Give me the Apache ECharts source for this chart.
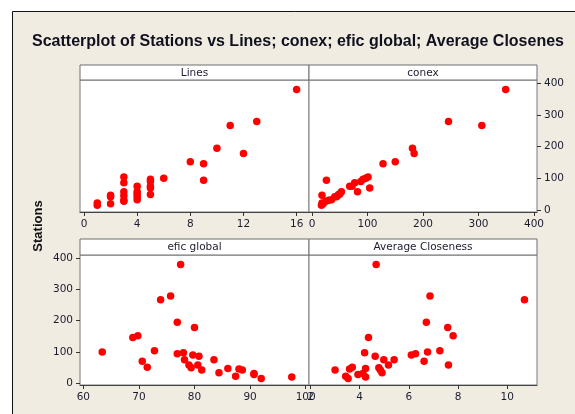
<!DOCTYPE html>
<html>
<head>
<meta charset="utf-8">
<script src="https://cdn.jsdelivr.net/npm/echarts@6/dist/echarts.min.js"></script>
<style>html,body{margin:0;padding:0;background:#fff;}#c{width:575px;height:414px;}</style>
</head>
<body>
<div id="c"></div>
<script>
const stations = [15,20,22,28,31,33,42,42,45,47,49,51,58,58,70,75,75,86,90,94,97,100,104,146,152,178,195,267,279,380];
const lines = [1,2,1,3,3,4,4,2,3,2,5,4,3,4,5,4,5,3,5,9,5,6,3,9,8,12,10,11,13,16];
const conex = [17,20,18,25,30,35,41,44,46,18,48,50,53,82,104,68,72,77,88,26,92,97,101,128,150,184,181,306,246,349];
const eficGlobal = [92.0,97.5,87.4,90.7,90.7,84.4,81.3,88.6,88.0,86.0,79.4,71.5,79.0,80.6,70.6,78.2,83.5,80.8,79.7,76.9,78.0,63.4,72.8,68.9,69.8,80.0,76.9,73.9,75.7,77.5];
const avgCloseness = [3.53,4.24,3.43,3.93,4.13,4.91,3.00,4.84,3.59,4.24,4.78,3.70,5.17,7.61,6.62,4.98,5.40,4.63,6.10,6.27,4.20,6.76,7.26,4.36,7.80,7.58,6.71,10.7,6.86,4.67];

const linesTicks = [0,4,8,12,16];
const conexTicks = [0,100,200,300,400];
const eficTicks = [60,70,80,90,100];
const avgTicks = [2,4,6,8,10];
const stationTicks = [0,100,200,300,400];
const panelTitles = ['Lines','conex','efic global','Average Closeness'];
const chartTitle = 'Scatterplot of Stations vs Lines; conex; efic global; Average Closenes';

const FONT = 'DejaVu Sans';
const TXT = '#1c1c30';
const pair = (xs) => xs.map((x, i) => [x, stations[i]]);

const grids = [
  {left: 80, top: 80, width: 229, height: 132},
  {left: 309, top: 80, width: 228, height: 132},
  {left: 80, top: 255, width: 229, height: 130},
  {left: 309, top: 255, width: 228, height: 130}
].map(g => Object.assign(g, {show: true, backgroundColor: '#fff', borderColor: '#7a7a7a', borderWidth: 1, containLabel: false}));

function xAx(i, min, max, ticks) {
  return {
    type: 'value', gridIndex: i, min: min, max: max, position: 'bottom',
    axisLine: {show: true, onZero: false, lineStyle: {color: '#444', width: 1}},
    axisTick: {show: true, length: 4, customValues: ticks, lineStyle: {color: '#333'}},
    axisLabel: {show: true, customValues: ticks, margin: 7, fontFamily: FONT, fontSize: 10.5, color: TXT},
    splitLine: {show: false}
  };
}
function yAx(i, showLab, pos) {
  return {
    type: 'value', gridIndex: i, min: -6, max: 410, position: pos,
    axisLine: {show: false, onZero: false},
    axisTick: {show: showLab, length: 4, customValues: stationTicks, lineStyle: {color: '#333'}},
    axisLabel: {show: showLab, customValues: stationTicks, margin: 7, fontFamily: FONT, fontSize: 10.5, color: TXT},
    splitLine: {show: false}
  };
}

const strips = [
  {x: 80, y: 65, w: 229, h: 15},
  {x: 309, y: 65, w: 228, h: 15},
  {x: 80, y: 239, w: 229, h: 16},
  {x: 309, y: 239, w: 228, h: 16}
];
const graphics = [
  {type: 'rect', z: -10, shape: {x: 12.5, y: 11.5, width: 580, height: 420}, style: {fill: '#f0ece2', stroke: '#111', lineWidth: 1}}
];
strips.forEach((s, i) => {
  graphics.push({type: 'rect', shape: {x: s.x, y: s.y, width: s.w, height: s.h}, style: {fill: '#fff', stroke: '#6e6e6e', lineWidth: 1}});
  graphics.push({type: 'text', x: s.x + s.w / 2, y: s.y + s.h / 2 + 0.5, style: {text: panelTitles[i], fill: TXT, font: '10.5px "DejaVu Sans"', align: 'center', verticalAlign: 'middle'}});
});
graphics.push({type: 'text', x: 38, y: 226, rotation: Math.PI / 2, style: {text: 'Stations', fill: '#111', font: 'bold 13px "Liberation Sans"', align: 'center', verticalAlign: 'middle'}});

const xs = [lines, conex, eficGlobal, avgCloseness];
const option = {
  animation: false,
  backgroundColor: '#fff',
  title: {text: chartTitle, left: 27, top: 29, textStyle: {fontFamily: 'Liberation Sans', fontWeight: 'bold', fontSize: 16, color: '#10101e'}},
  grid: grids,
  xAxis: [xAx(0, -0.3, 16.93, linesTicks), xAx(1, -5.4, 405.4, conexTicks), xAx(2, 59.4, 100.6, eficTicks), xAx(3, 1.94, 11.21, avgTicks)],
  yAxis: [yAx(0, false, 'left'), yAx(1, true, 'right'), yAx(2, true, 'left'), yAx(3, false, 'right')],
  series: xs.map((d, i) => ({type: 'scatter', xAxisIndex: i, yAxisIndex: i, data: pair(d), symbolSize: 7.5, itemStyle: {color: '#ff0000', opacity: 1}})),
  graphic: graphics
};
const chart = echarts.init(document.getElementById('c'), null, {renderer: 'canvas'});
chart.setOption(option);
</script>
</body>
</html>
